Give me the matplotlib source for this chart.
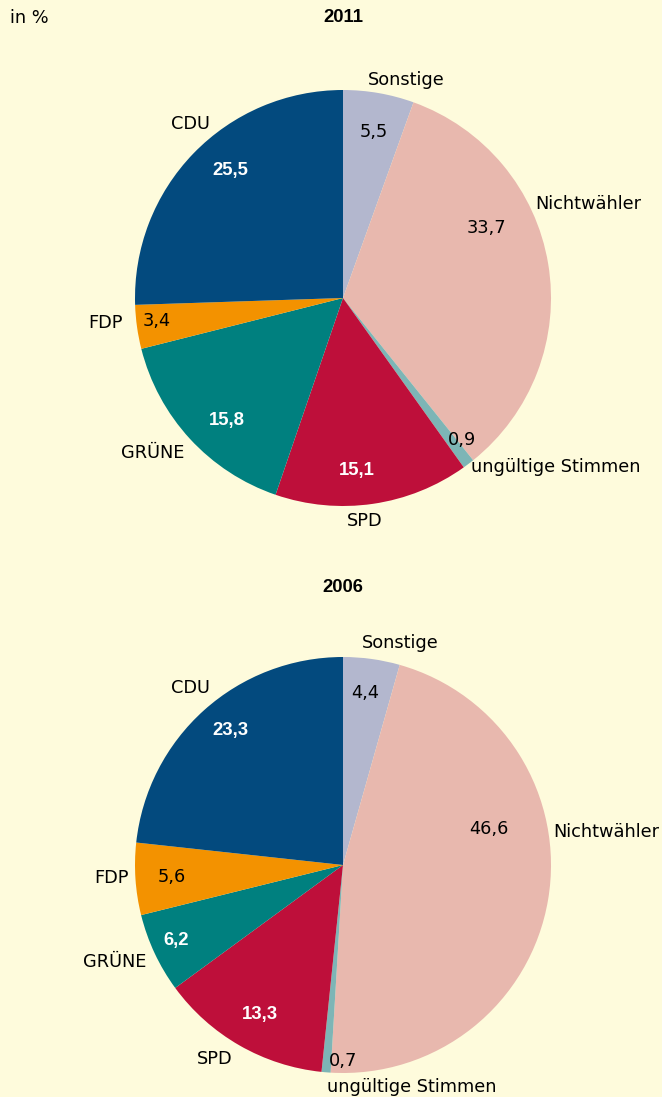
import matplotlib.pyplot as plt

plt.rcParams.update({'font.family': ['DejaVu Sans'], 'font.size': 12.8})

# data, clockwise from 12 o'clock
parties = ['Sonstige', 'Nichtwähler', 'ungültige Stimmen', 'SPD', 'GRÜNE', 'FDP', 'CDU']
vals_2011 = [5.5, 33.7, 0.9, 15.1, 15.8, 3.4, 25.5]
vals_2006 = [4.4, 46.6, 0.7, 13.3, 6.2, 5.6, 23.3]
years = ['2011', '2006']

colors = ['#b3b7ce', '#e8b8ae', '#7db5b6', '#be0f3a', '#00807f', '#f39200', '#034a7e']
white_val = [False, False, False, True, True, False, True]

W, H = 662, 1097
bg = '#fefbdc'

# layout in pixel coords (top-left origin)
centers = [(343, 298), (343, 865)]
radius = 208
title_pos = [(343, 18), (343, 587)]
name_pos = [
    [(406, 80), (588, 204), (556, 467), (365, 521), (153, 453), (105, 323), (190, 124)],
    [(400, 643), (606, 832), (412, 1087), (215, 1059), (115, 962), (112, 878), (190, 688)],
]
val_pos = [
    [(374, 132), (486, 228), (462, 440), (357, 470), (227, 421), (157, 321), (230, 171)],
    [(365, 693), (489, 829), (343, 1061), (260, 1015), (176, 940), (172, 877), (230, 731)],
]

fig = plt.figure(figsize=(W / 100, H / 100), dpi=100, facecolor=bg)
ax = fig.add_axes([0, 0, 1, 1])
ax.set_facecolor(bg)

for i, vals in enumerate([vals_2011, vals_2006]):
    cx, cy = centers[i]
    ax.pie(vals, colors=colors, startangle=90, counterclock=False,
           center=(cx, H - cy), radius=radius,
           wedgeprops={'linewidth': 0})
    tx, ty = title_pos[i]
    ax.text(tx, H - ty, years[i], ha='center', va='center', fontweight='bold',
            fontsize=13.3, family=['Liberation Sans Narrow', 'Liberation Sans'])
    for j, name in enumerate(parties):
        nx, ny = name_pos[i][j]
        ax.text(nx, H - ny, name, ha='center', va='center', color='black')
        vx, vy = val_pos[i][j]
        label = '{:.1f}'.format(vals[j]).replace('.', ',')
        if white_val[j]:
            ax.text(vx, H - vy, label, ha='center', va='center', color='white',
                    fontweight='bold', fontsize=13.3, family='Liberation Sans')
        else:
            ax.text(vx, H - vy, label, ha='center', va='center', color='black')

ax.text(10, H - 18, 'in %', ha='left', va='center')

ax.set_xlim(0, W)
ax.set_ylim(0, H)
ax.set_aspect('equal')
ax.axis('off')

fig.savefig('out.png', dpi=100, facecolor=bg)
